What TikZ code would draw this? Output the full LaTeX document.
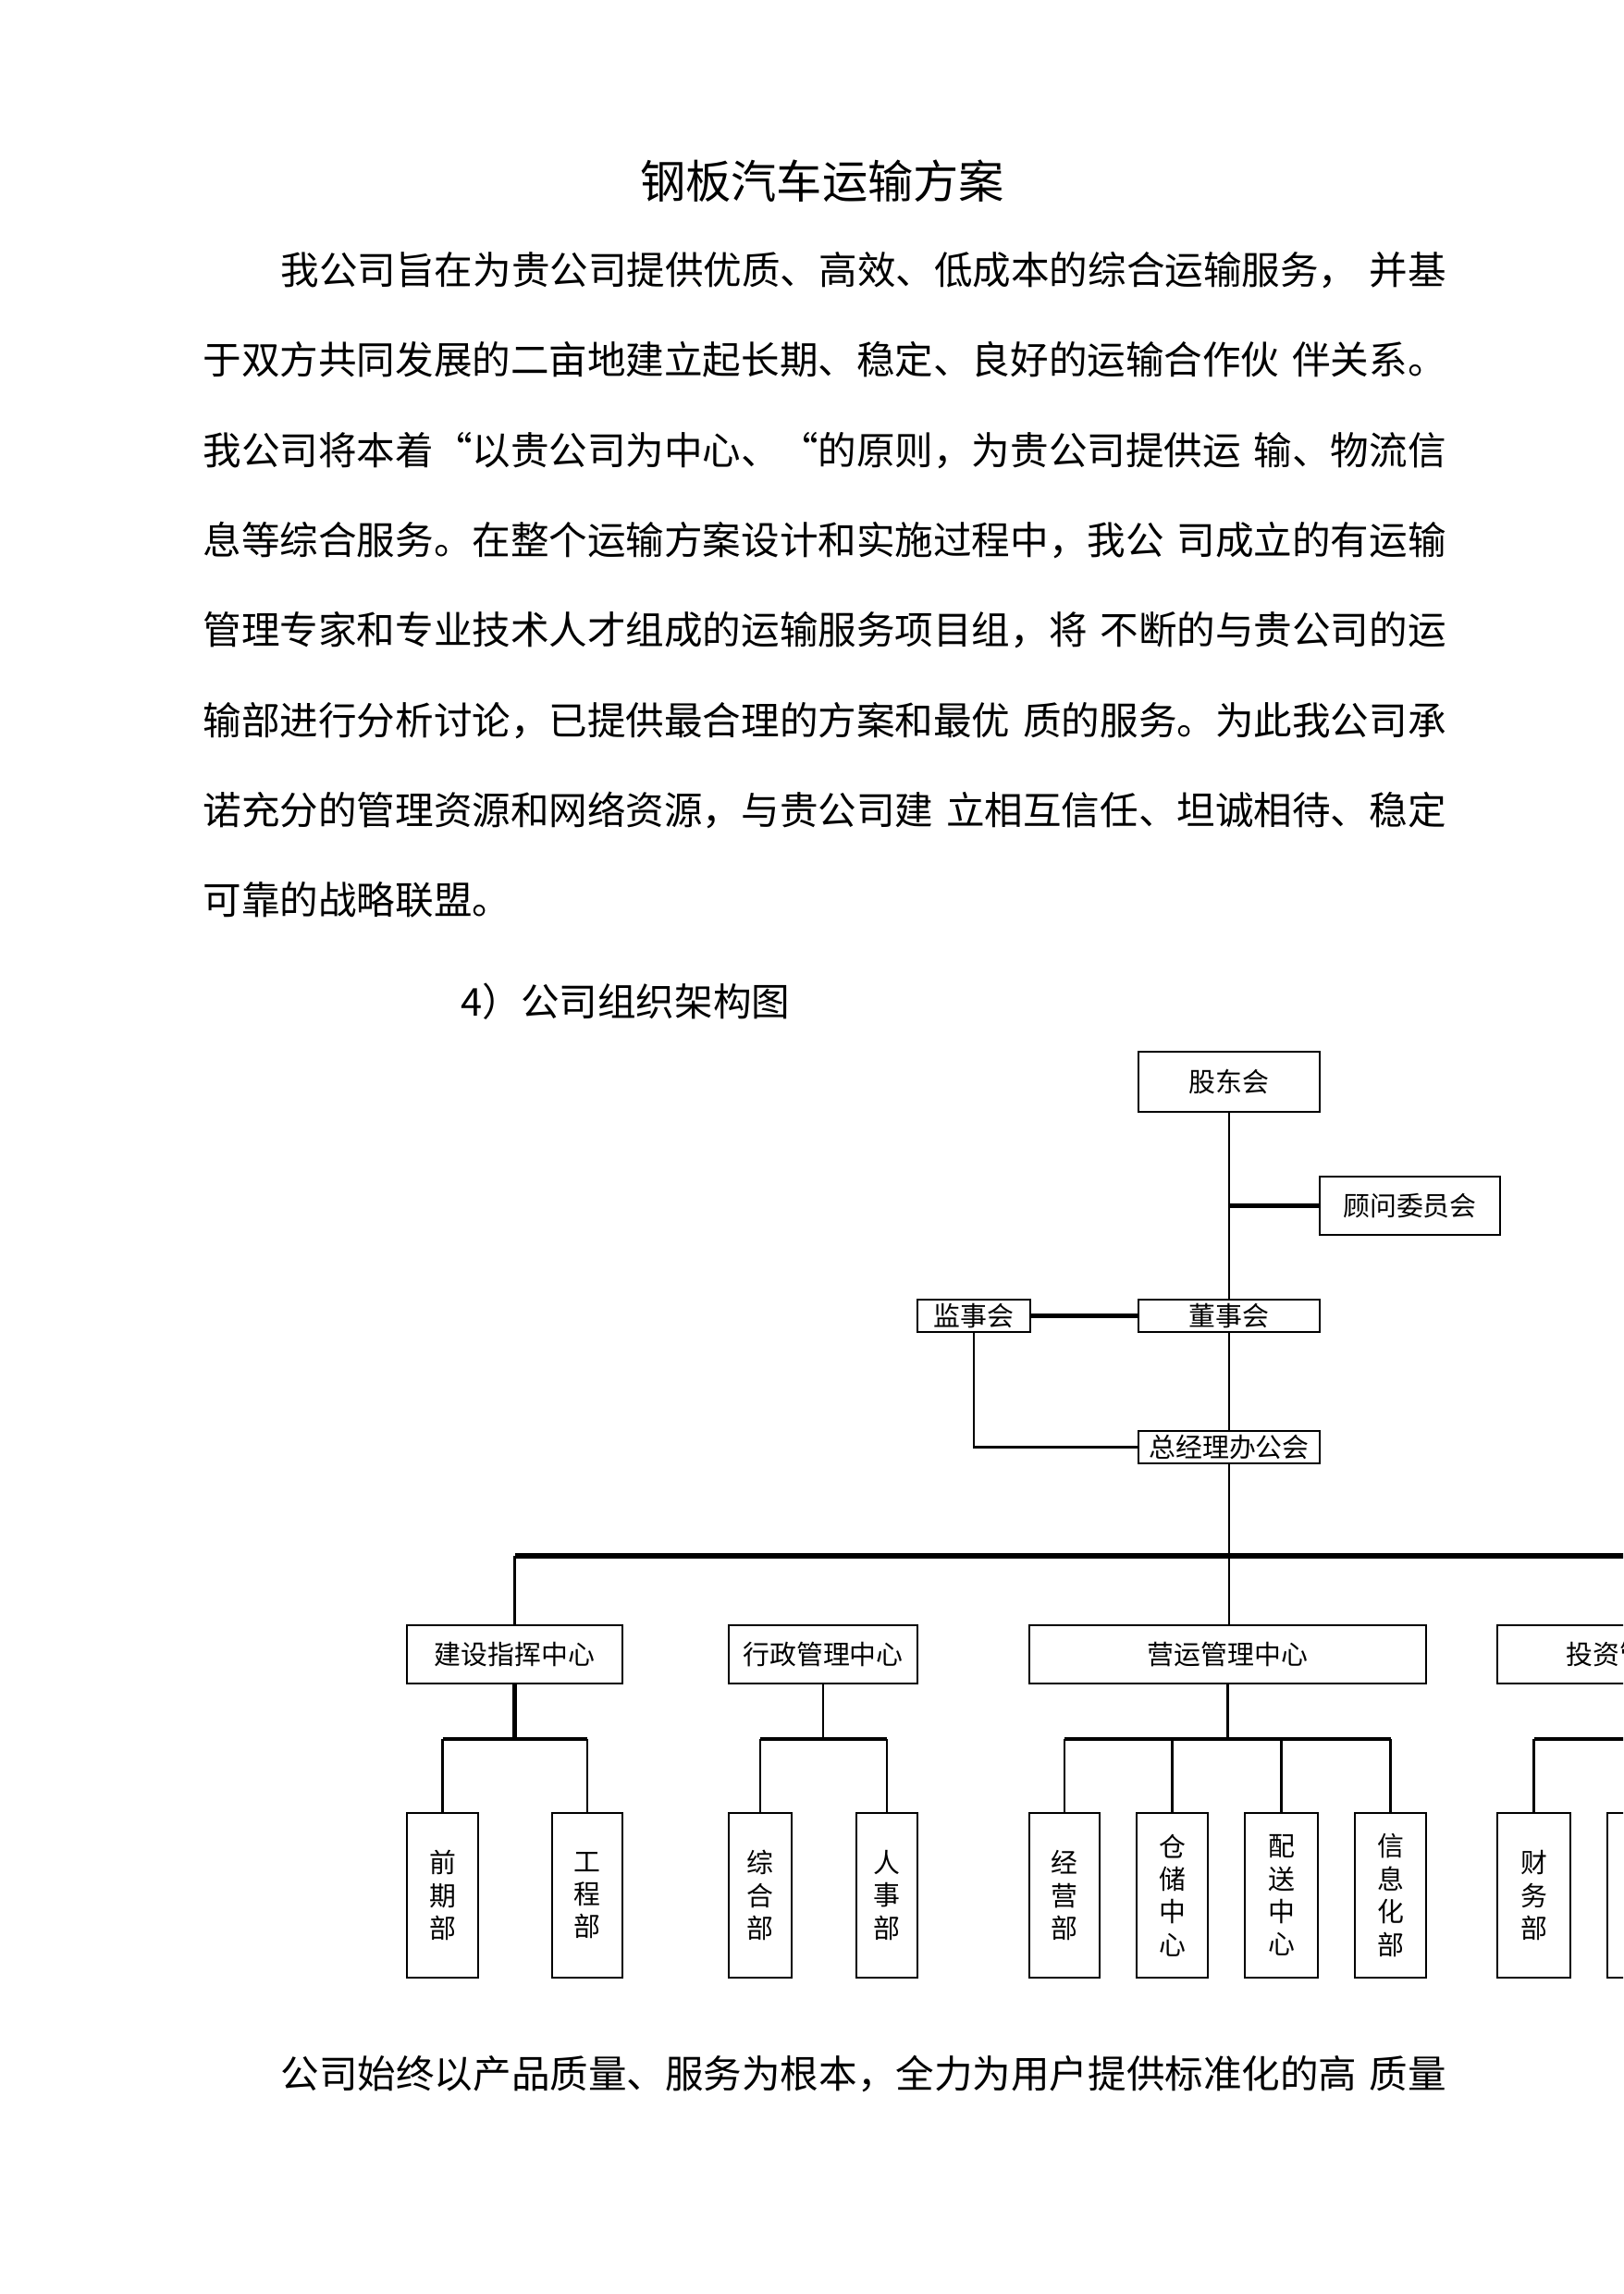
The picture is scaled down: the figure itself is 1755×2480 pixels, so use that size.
\documentclass[tikz,border=0pt]{standalone}
\usepackage{fontspec}
\setmainfont{Noto Sans CJK SC}
\XeTeXlinebreaklocale "zh"
\XeTeXlinebreakskip=0pt plus 2pt
\newcommand\gapsp{\hspace{0.3em plus 2pt}}
\begin{document}
\begin{tikzpicture}[x=0.3392pt,y=-0.3392pt,
  box/.style={draw,line width=0.6pt,inner sep=0pt,align=center,font=\fontsize{9.8pt}{12pt}\selectfont},
  link/.style={line width=0.9pt},
  mid/.style={line width=1.3pt},
  heavy/.style={line width=1.8pt},
  para/.style={anchor=west,inner sep=0pt,font=\fontsize{14.1pt}{16pt}\selectfont},
  lvA/.style={box,minimum height=21.4pt},
  lvB/.style={box,minimum height=60.4pt}]
\useasboundingbox (0,0) rectangle (1755,2480);
\clip (0,0) rectangle (1755,2480);
% title and text
\node[inner sep=0pt,font=\fontsize{16.7pt}{18pt}\selectfont] (title) at (889,196) {钢板汽车运输方案};
\node[para] (p1) at (303,292) {\makebox[427.4pt][s]{我公司旨在为贵公司提供优质、高效、低成本的综合运输服务，\gapsp 并基}};
\node[para] (p2) at (219,389) {\makebox[455.9pt][s]{于双方共同发展的二亩地建立起长期、稳定、良好的运输合作伙\gapsp 伴关系。}};
\node[para] (p3) at (219,487) {\makebox[455.9pt][s]{我公司将本着“以贵公司为中心、“的原则，为贵公司提供运\gapsp 输、物流信}};
\node[para] (p4) at (219,584) {\makebox[455.9pt][s]{息等综合服务。在整个运输方案设计和实施过程中，我公\gapsp 司成立的有运输}};
\node[para] (p5) at (219,681) {\makebox[455.9pt][s]{管理专家和专业技术人才组成的运输服务项目组，将\gapsp 不断的与贵公司的运}};
\node[para] (p6) at (219,779) {\makebox[455.9pt][s]{输部进行分析讨论，已提供最合理的方案和最优\gapsp 质的服务。为此我公司承}};
\node[para] (p7) at (219,876) {\makebox[455.9pt][s]{诺充分的管理资源和网络资源，与贵公司建\gapsp 立相互信任、坦诚相待、稳定}};
\node[para] (p8) at (219,973) {可靠的战略联盟。};
\node[para] (sub) at (498,1083) {4）公司组织架构图};
\node[para] (last) at (303,2242) {\makebox[427.4pt][s]{公司始终以产品质量、服务为根本，全力为用户提供标准化的高\gapsp 质量}};
% top boxes
\node[box,minimum width=66.5pt,minimum height=22pt] (gd) at (1329,1169.5) {股东会};
\node[box,minimum width=66.1pt,minimum height=21.4pt] (gw) at (1524.5,1303.5) {顾问委员会};
\node[box,minimum width=66.5pt,minimum height=11.9pt] (ds) at (1329,1422.5) {董事会};
\node[box,minimum width=41.4pt,minimum height=11.9pt] (js) at (1053,1422.5) {监事会};
\node[box,minimum width=66.5pt,minimum height=11.9pt] (zj) at (1329,1564.5) {总经理办公会};
% level 2
\node[lvA,minimum width=79pt] (jz) at (556.5,1788.5) {建设指挥中心};
\node[lvA,minimum width=69.2pt] (xz) at (890,1788.5) {行政管理中心};
\node[lvA,minimum width=145.5pt] (yy) at (1327.5,1788.5) {营运管理中心};
\node[lvA,minimum width=109.2pt] (tz) at (1780,1788.5) {投资管理中心};
% level 3
\node[lvB,minimum width=26.1pt] (qq) at (478.5,2049) {前\\期\\部};
\node[lvB,minimum width=25.8pt] (gc) at (635,2049) {工\\程\\部};
\node[lvB,minimum width=23.1pt] (zh) at (822,2049) {综\\合\\部};
\node[lvB,minimum width=22.4pt] (rs) at (959,2049) {人\\事\\部};
\node[lvB,minimum width=25.8pt] (jy) at (1151,2049) {经\\营\\部};
\node[lvB,minimum width=26.1pt] (cc) at (1267.5,2049) {仓\\储\\中\\心};
\node[lvB,minimum width=26.8pt] (ps) at (1385.5,2049) {配\\送\\中\\心};
\node[lvB,minimum width=26.1pt] (xx) at (1503.5,2049) {信\\息\\化\\部};
\node[lvB,minimum width=26.8pt] (cw) at (1658.5,2049) {财\\务\\部};
\node[lvB,minimum width=26.8pt] (nx) at (1777.5,2049) {};
% connectors top
\draw[link] (gd.south) -- (ds.north);
\draw[heavy] (gd.south |- gw.west) -- (gw.west);
\draw[heavy] (js.east) -- (ds.west);
\draw[link] (js.south) |- (zj.west);
\draw[link] (ds.south) -- (zj.north);
\coordinate (bus) at (1329,1682);
\draw[link] (zj.south) -- (bus);
\draw[heavy] (jz.north |- bus) -- (tz.north |- bus);
\draw[link] (jz.north |- bus) -- (jz.north);
\draw[link] (bus) -- (bus |- yy.north);
\draw[link] (tz.north |- bus) -- (tz.north);
% sub-buses
\coordinate (r) at (0,1880);
\draw[heavy] (jz.south) -- (jz.south |- r);
\draw[mid] (qq.north |- r) -- (gc.north |- r);
\draw[link] (qq.north |- r) -- (qq.north);
\draw[link] (gc.north |- r) -- (gc.north);
\draw[link] (xz.south) -- (xz.south |- r);
\draw[mid] (zh.north |- r) -- (rs.north |- r);
\draw[link] (zh.north |- r) -- (zh.north);
\draw[link] (rs.north |- r) -- (rs.north);
\draw[link] (yy.south) -- (yy.south |- r);
\draw[mid] (jy.north |- r) -- (xx.north |- r);
\draw[link] (jy.north |- r) -- (jy.north);
\draw[link] (cc.north |- r) -- (cc.north);
\draw[link] (ps.north |- r) -- (ps.north);
\draw[link] (xx.north |- r) -- (xx.north);
\draw[link] (tz.south) -- (tz.south |- r);
\draw[mid] (cw.north |- r) -- (nx.north |- r);
\draw[link] (cw.north |- r) -- (cw.north);
\draw[link] (nx.north |- r) -- (nx.north);
\end{tikzpicture}
\end{document}
